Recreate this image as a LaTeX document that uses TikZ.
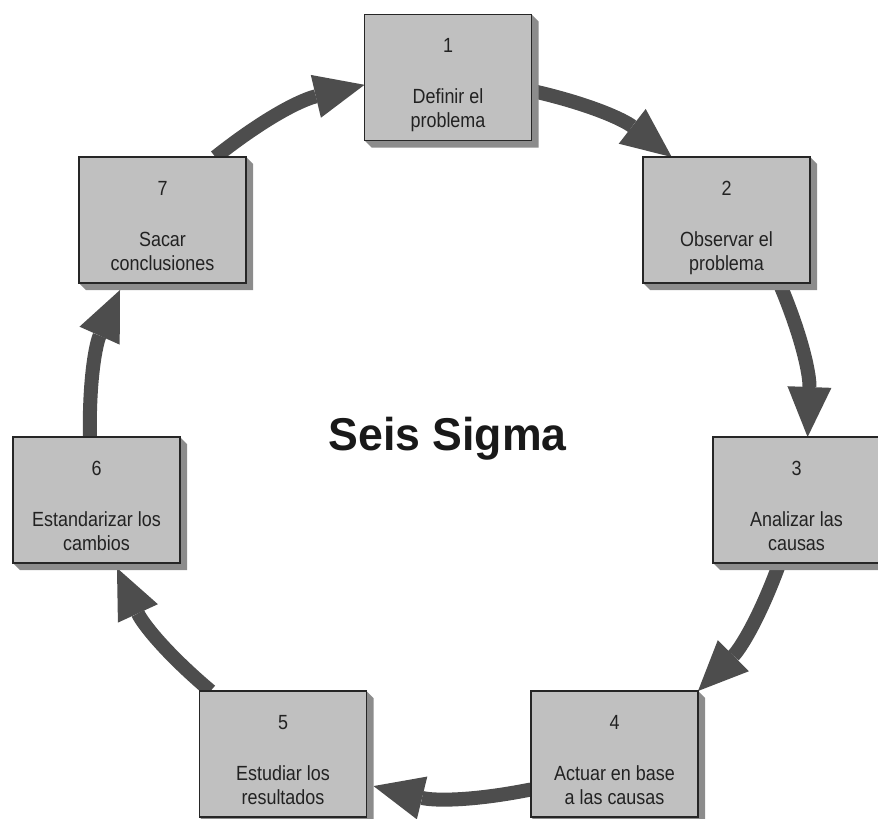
\documentclass[tikz,border=0pt]{standalone}
\usepackage{fontspec}
\setmainfont{Liberation Sans}[FakeStretch=0.875]
\newfontfamily\titlefont{Liberation Sans}[FakeStretch=0.97]
\usetikzlibrary{arrows.meta,calc}
\definecolor{boxfill}{HTML}{C0C0C0}
\definecolor{shadowc}{HTML}{8C8C8C}
\definecolor{arrowc}{HTML}{4D4D4D}
\definecolor{textc}{HTML}{222222}
\pgfdeclarelayer{arrowlayer}
\pgfdeclarelayer{shadowlayer}
\pgfsetlayers{arrowlayer,shadowlayer,main}
\newcommand{\boxtext}[3]{\parbox[c][126pt][t]{167pt}{\centering\fontsize{20.5}{24}\selectfont\rule{0pt}{38pt}#1\\[27pt]#2\\#3}}
\tikzset{
  stepbox/.style={draw=black!85, line width=1.2pt, fill=boxfill, inner sep=0pt, outer sep=0pt, text=textc},
  flow/.style={draw=arrowc, line width=14pt, -{Triangle[length=50pt,width=44pt,line width=0pt]}, bend left=12.5},
  boxshadow/.style={fill=shadowc}
}
\begin{document}
\begin{tikzpicture}[x=1pt,y=1pt]
\useasboundingbox (0,0) rectangle (878,-819);
\node[stepbox] (b1) at (448,-77.5) {\boxtext{1}{Definir el}{problema}};
\node[stepbox] (b2) at (726.5,-220) {\boxtext{2}{Observar el}{problema}};
\node[stepbox] (b3) at (796.5,-500) {\boxtext{3}{Analizar las}{causas}};
\node[stepbox] (b4) at (614.5,-754) {\boxtext{4}{Actuar en base}{a las causas}};
\node[stepbox] (b5) at (283,-754) {\boxtext{5}{Estudiar los}{resultados}};
\node[stepbox] (b6) at (96.5,-500) {\boxtext{6}{Estandarizar los}{cambios}};
\node[stepbox] (b7) at (162.5,-220) {\boxtext{7}{Sacar}{conclusiones}};
\node[anchor=base, text=black!90] (title) at (447.5,-450) {\titlefont\bfseries\fontsize{46}{50}\selectfont Seis Sigma};
\begin{pgfonlayer}{shadowlayer}
\foreach \n in {b1,b2,b3,b4,b5,b6,b7}
  \fill[boxshadow] (\n.north east) -- ++(7,-7) -- ($(\n.south east)+(7,-7)$) -- ($(\n.south west)+(7,-7)$) -- (\n.south west) -- cycle;
\end{pgfonlayer}
\begin{pgfonlayer}{arrowlayer}
\draw[flow] (b1.-9) to (b2.131);
\draw[flow] (b2.-50) to (b3.80.5);
\draw[flow] (b3.-105) to (b4.north east);
\draw[flow] (b4.203) to ($(b5.-21)+(7,0)$);
\draw[flow] (b5.139) to ($(b6.-72)+(0,-5)$);
\draw[flow] (b6.96) to ($(b7.-124)+(0,-7)$);
\draw[flow] (b7.50) to (b1.185);
\end{pgfonlayer}
\end{tikzpicture}
\end{document}
